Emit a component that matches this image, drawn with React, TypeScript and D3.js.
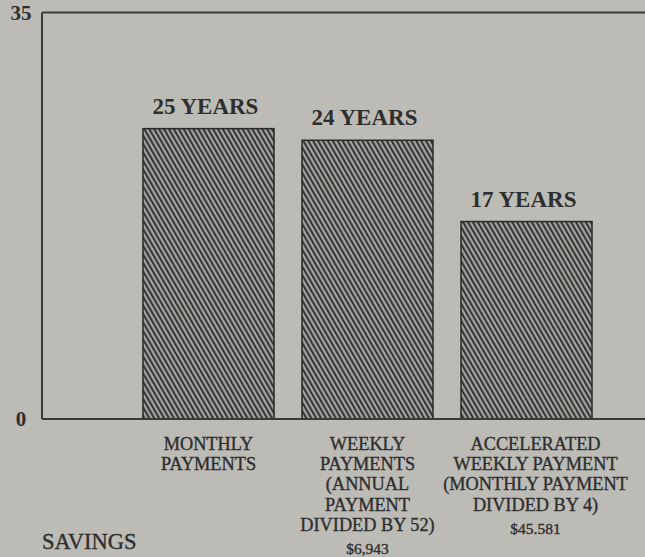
import React from "react";
import * as d3 from "d3";

const categories = ["monthly", "weekly", "accelerated"];
const years = [25, 24, 17];
const yearLabels = ["25 YEARS", "24 YEARS", "17 YEARS"];
const categoryLines = [
  ["MONTHLY", "PAYMENTS"],
  ["WEEKLY", "PAYMENTS", "(ANNUAL", "PAYMENT", "DIVIDED BY 52)"],
  ["ACCELERATED", "WEEKLY PAYMENT", "(MONTHLY PAYMENT", "DIVIDED BY 4)"],
];
const savingsLabels = ["", "$6,943", "$45.581"];
const yTicks = [0, 35];
const footerLabel = "SAVINGS";

const W = 645;
const H = 557;
const left = 42;
const top = 12.5;
const bottom = 419;

export default function App() {
  const y = d3.scaleLinear().domain([0, 35]).range([bottom, top]);
  const x = d3
    .scaleBand<string>()
    .domain(categories)
    .range([left, 693])
    .paddingInner(0.176)
    .paddingOuter(0.635);

  const bg = "#bcbbb6";
  const ink = "#2e2e2e";
  const font = "'Liberation Serif', 'Times New Roman', serif";

  return (
    <svg
      width={W}
      height={H}
      style={{ position: "absolute", left: 0, top: 0, display: "block" }}
      fontFamily={font}
    >
      <defs>
        <pattern
          id="hatch"
          patternUnits="userSpaceOnUse"
          width={4.25}
          height={10}
          patternTransform="rotate(-30)"
        >
          <rect width={4.25} height={10} fill="#a3a29e" />
          <rect width={2.0} height={10} fill="#333333" />
        </pattern>
      </defs>
      <rect width={W} height={H} fill={bg} />

      {/* frame */}
      <line x1={left} x2={W} y1={top} y2={top} stroke="#3a3a3a" strokeWidth={2} />
      <line x1={left} x2={left} y1={top} y2={bottom} stroke="#3a3a3a" strokeWidth={2} />

      {/* bars */}
      {categories.map((c, i) => (
        <rect
          key={c}
          x={x(c)}
          y={y(years[i])}
          width={x.bandwidth()}
          height={y(0) - y(years[i])}
          fill="url(#hatch)"
          stroke="#2a2a2a"
          strokeWidth={1.5}
        />
      ))}

      <line x1={left} x2={W} y1={bottom} y2={bottom} stroke="#3a3a3a" strokeWidth={2} />

      {/* y ticks */}
      {yTicks.map((t) => (
        <text
          key={t}
          x={21}
          y={y(t)}
          dy="0.35em"
          textAnchor="middle"
          fontSize={21}
          fontWeight="bold"
          fill={ink}
        >
          {t}
        </text>
      ))}

      {/* value labels */}
      {categories.map((c, i) => (
        <text
          key={c}
          x={(x(c) as number) + x.bandwidth() / 2 - 3}
          y={y(years[i]) - 15}
          textAnchor="middle"
          fontSize={23}
          fontWeight="bold"
          fill={ink}
        >
          {yearLabels[i]}
        </text>
      ))}

      {/* category labels */}
      {categories.map((c, i) => {
        const cx = (x(c) as number) + x.bandwidth() / 2 + (i === 2 ? 9 : 0);
        const lines = categoryLines[i];
        return (
          <g key={c} fill={ink} stroke={ink} strokeWidth={0.35}>
            {lines.map((l, j) => (
              <text
                key={j}
                x={cx}
                y={450 + j * 20.2}
                textAnchor="middle"
                fontSize={18.3}
              >
                {l}
              </text>
            ))}
            {savingsLabels[i] && (
              <text
                x={cx}
                y={450 + lines.length * 20.2 + 3}
                textAnchor="middle"
                fontSize={15.5}
              >
                {savingsLabels[i]}
              </text>
            )}
          </g>
        );
      })}

      <text x={42} y={549} fontSize={22.5} fill={ink} stroke={ink} strokeWidth={0.35}>
        {footerLabel}
      </text>
    </svg>
  );
}
